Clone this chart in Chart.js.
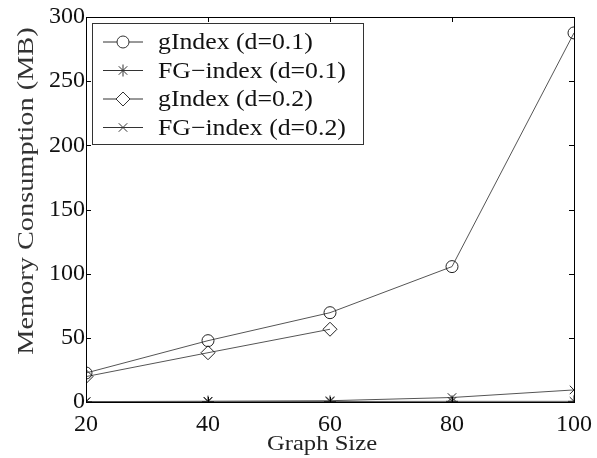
<!DOCTYPE html>
<html lang="en">
  <head>
    <meta charset="UTF-8" />
    <title>Memory Consumption</title>
    <script src="https://cdn.jsdelivr.net/npm/chart.js"></script>
    <style>
      html, body { margin: 0; padding: 0; background: #fff; }
      #wrap { width: 597px; height: 458px; }
    </style>
  </head>
  <body>
    <div id="wrap"><canvas id="myChart" width="597" height="458"></canvas></div>
    <script>
      const graphSizes = [20, 40, 60, 80, 100];
      const gIndex01 = [22.6, 47.8, 69.6, 105.5, 287.6];
      const fgIndex01 = [0.2, 0.3, 0.4, 0.5, 0.5];
      const gIndex02 = [19.8, 38.4, 56.7];
      const fgIndex02 = [0.3, 0.6, 1.0, 3.5, 9.4];
      const seriesNames = ["gIndex (d=0.1)", "FG\u2212index (d=0.1)", "gIndex (d=0.2)", "FG\u2212index (d=0.2)"];
      const markers = ["circle", "star", "rectRot", "crossRot"];
      const yTicks = [0, 50, 100, 150, 200, 250, 300];
      const xTitle = "Graph Size";
      const yTitle = "Memory Consumption (MB)";

      const serif = "'Liberation Serif', 'Times New Roman', serif";
      const toPoints = (vals) => vals.map((v, i) => ({ x: graphSizes[i], y: v }));

      const allSeries = [gIndex01, fgIndex01, gIndex02, fgIndex02];
      const datasets = allSeries.map((vals, i) => ({
        label: seriesNames[i],
        data: toPoints(vals),
        borderColor: "#555",
        borderWidth: 1,
        pointStyle: markers[i],
        pointRadius: markers[i] === "rectRot" ? 7 : 6,
        pointBorderColor: "#222",
        pointBackgroundColor: "transparent",
        pointBorderWidth: 1,
        tension: 0,
      }));

      // text drawn a bit wider than normal, like the original figure
      function wideText(ctx, text, x, y, size, sx, color, align) {
        ctx.save();
        ctx.translate(x, y);
        ctx.scale(sx, 1);
        ctx.font = size + "px " + serif;
        ctx.fillStyle = color;
        ctx.textAlign = align || "left";
        ctx.textBaseline = "middle";
        ctx.fillText(text, 0, 0);
        ctx.restore();
      }

      // box around the plot with inward ticks, titles, and the legend inside
      const matlabFrame = {
        id: "matlabFrame",
        afterDatasetsDraw(chart) {
          const { ctx, chartArea: a, scales } = chart;
          ctx.save();
          ctx.strokeStyle = "#000";
          ctx.lineWidth = 1;
          ctx.strokeRect(a.left + 0.5, a.top + 0.5, a.right - a.left, a.bottom - a.top);
          const t = 5;
          ctx.beginPath();
          graphSizes.forEach((v) => {
            const x = Math.round(scales.x.getPixelForValue(v)) + 0.5;
            ctx.moveTo(x, a.bottom); ctx.lineTo(x, a.bottom - t);
            ctx.moveTo(x, a.top); ctx.lineTo(x, a.top + t);
          });
          yTicks.forEach((v) => {
            const y = Math.round(scales.y.getPixelForValue(v)) + 0.5;
            ctx.moveTo(a.left, y); ctx.lineTo(a.left + t, y);
            ctx.moveTo(a.right, y); ctx.lineTo(a.right - t, y);
          });
          ctx.stroke();

          // axis titles
          wideText(ctx, xTitle, 322, 444, 22, 1.12, "#222", "center");
          ctx.save();
          ctx.translate(27, 191);
          ctx.rotate(-Math.PI / 2);
          wideText(ctx, yTitle, 0, 0, 24, 1.18, "#333", "center");
          ctx.restore();

          // legend
          const lx = 92, ly = 23, lw = 271, lh = 121;
          ctx.fillStyle = "#fff";
          ctx.fillRect(lx, ly, lw, lh);
          ctx.strokeStyle = "#333";
          ctx.strokeRect(lx + 0.5, ly + 0.5, lw, lh);
          chart.data.datasets.forEach((ds, i) => {
            const y = 42 + i * 28.5;
            ctx.strokeStyle = "#333";
            ctx.lineWidth = 1;
            ctx.beginPath();
            ctx.moveTo(103, y); ctx.lineTo(143, y);
            ctx.stroke();
            ctx.fillStyle = "#fff";
            Chart.helpers.drawPoint(ctx, {
              pointStyle: ds.pointStyle, radius: ds.pointRadius, rotation: 0, borderWidth: 1,
            }, 123, y);
            wideText(ctx, ds.label, 158, y + 1, 23, 1.12, "#111");
          });
          ctx.restore();
        },
      };

      new Chart(document.getElementById("myChart"), {
        type: "line",
        data: { datasets },
        options: {
          responsive: false,
          animation: false,
          layout: { padding: { top: 17, right: 23, left: 0, bottom: 0 } },
          plugins: { legend: { display: false }, tooltip: { enabled: false } },
          scales: {
            x: {
              type: "linear",
              min: 20,
              max: 100,
              afterBuildTicks: (s) => { s.ticks = graphSizes.map((v) => ({ value: v })); },
              afterFit: (s) => { s.height = 56; },
              grid: { display: false },
              border: { display: false },
              ticks: { color: "#111", font: { family: serif, size: 24 }, padding: 0, maxRotation: 0 },
            },
            y: {
              min: 0,
              max: 300,
              afterBuildTicks: (s) => { s.ticks = yTicks.map((v) => ({ value: v })); },
              afterFit: (s) => { s.width = 86; },
              grid: { display: false },
              border: { display: false },
              ticks: { color: "#111", font: { family: serif, size: 24 }, padding: -7 },
            },
          },
        },
        plugins: [matlabFrame],
      });
    </script>
  </body>
</html>
